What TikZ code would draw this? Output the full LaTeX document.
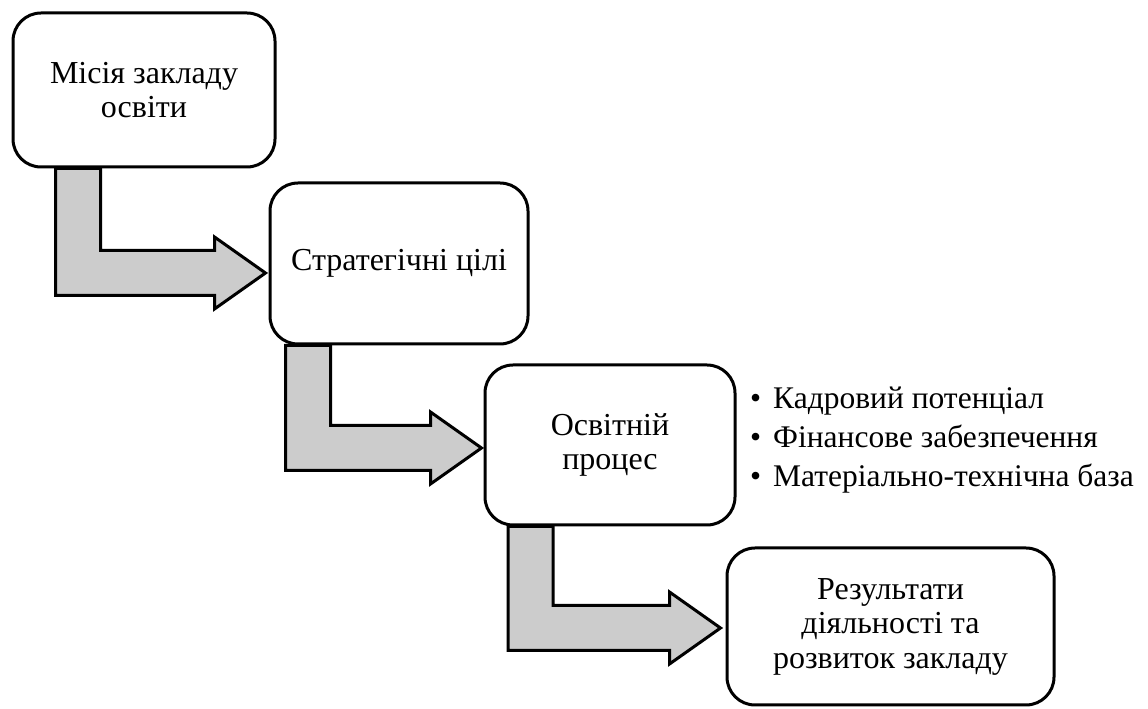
\documentclass[tikz,border=0pt]{standalone}
\usepackage{fontspec}
\setmainfont{Liberation Serif}
\usetikzlibrary{positioning,calc}

% bent block arrow: #1 top of the shaft, #2 the tip
\newcommand{\povorot}[2]{%
  \filldraw[strilka] let \p1 = (#1), \p2 = (#2) in
    (\x1-22.5pt,\y1) -- (\x1+22.5pt,\y1) -- (\x1+22.5pt,\y2+22.5pt)
    -- (\x2-51pt,\y2+22.5pt) -- (\x2-51pt,\y2+36pt) -- (\x2,\y2)
    -- (\x2-51pt,\y2-36pt) -- (\x2-51pt,\y2-22.5pt)
    -- (\x1-22.5pt,\y2-22.5pt) -- cycle;
}

\begin{document}
\begin{tikzpicture}[
x = 1pt, y = 1pt,
etap/.style = {draw, fill = white, line width = 3pt, rounded corners = 28pt,
  align = center, inner sep = 0pt, font = \fontsize{32}{34.5}\selectfont},
perelik/.style = {align = left, inner sep = 0pt, font = \fontsize{31.5}{39}\selectfont},
strilka/.style = {fill = black!20, draw = black, line width = 3pt, line join = miter}
]
\useasboundingbox (0,0) rectangle (1148,709);

\node[etap, minimum width = 262, minimum height = 154] (misiia) at (144,619)
  {Місія закладу\\освіти};
\node[etap, minimum width = 258, minimum height = 161] (tsili) at (399,445.5)
  {Стратегічні цілі};
\node[etap, minimum width = 250, minimum height = 160] (protses) at (610,264)
  {Освітній\\процес};
\node[etap, minimum width = 327, minimum height = 157] (rezultat) at (890.5,82.5)
  {Результати\\діяльності та\\розвиток закладу};

\node[perelik, anchor = west] (resursy) at (750,269)
  {\textbullet\hspace{12pt}Кадровий потенціал\\
   \textbullet\hspace{12pt}Фінансове забезпечення\\
   \textbullet\hspace{12pt}Матеріально-технічна база};

\povorot{$(misiia.south west)+(66.5,0)$}{$(tsili.west)+(-3,-9.5)$}
\povorot{$(tsili.south west)+(39.5,0)$}{$(protses.west)+(-2,-3)$}
\povorot{$(protses.south west)+(47,0)$}{$(rezultat.west)+(-5,-1.5)$}
\end{tikzpicture}
\end{document}
